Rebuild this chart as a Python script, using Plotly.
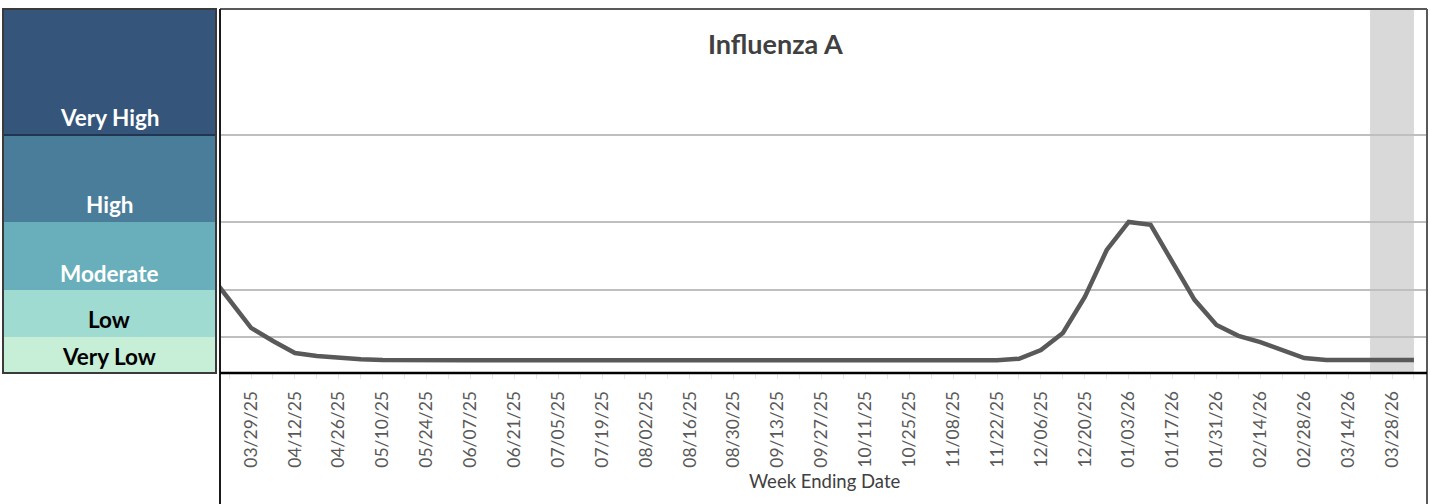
import pandas as pd
import plotly.graph_objects as go

# ---------------- data ----------------
week_ending = pd.date_range("2025-03-15", "2026-04-04", freq="7D")
flu_a = (
    [28.0, 20.3, 12.4, 8.8, 5.5, 4.7, 4.1, 3.8, 3.6]
    + [3.5] * 27
    + [3.5, 3.9, 6.3, 11.0, 20.9, 33.8, 41.5, 40.7, 30.5, 20.1,
       13.2, 10.2, 8.5, 6.3, 4.1, 3.6, 3.6, 3.6, 3.6, 3.6]
)
level_names = ["Very Low", "Low", "Moderate", "High", "Very High"]
level_bounds = [0, 9.9, 22.8, 41.5, 65.4, 100]
level_colors = ["#C7EED7", "#A0DBD1", "#68AEBB", "#4A7D9A", "#35557A"]
level_text_colors = ["black", "black", "white", "white", "white"]
incomplete_start, incomplete_end = "2026-03-21", "2026-04-04"
x_range = ["2025-03-19 10:00", "2026-04-08 04:00"]

# ---------------- layout geometry (pixels) ----------------
W, H = 1430, 504
PL, PR, PT, PB = 221, 1427, 9, 373  # plot area


def px_x(px):
    return (px - PL) / (PR - PL)


def px_y(py):
    return (PB - py) / (PB - PT)


FONT = "Lato"

fig = go.Figure()
fig.add_trace(go.Scatter(
    x=week_ending, y=flu_a, mode="lines",
    line=dict(color="#595959", width=4.5),
    showlegend=False, hoverinfo="x+y",
))

shapes = []
# incomplete-data band
shapes.append(dict(type="rect", xref="x", yref="paper",
                   x0=incomplete_start, x1=incomplete_end, y0=0, y1=1,
                   fillcolor="#D9D9D9", line_width=0, layer="below"))

annotations = []
# left level panel
for i, name in enumerate(level_names):
    lo, hi = level_bounds[i], level_bounds[i + 1]
    shapes.append(dict(type="rect", xref="paper", yref="y",
                       x0=px_x(3), x1=px_x(216), y0=lo, y1=hi,
                       fillcolor=level_colors[i], line_width=0, layer="above"))
    annotations.append(dict(
        xref="paper", yref="y", x=px_x(109), y=lo, yshift=17,
        text="<b>%s</b>" % name, showarrow=False,
        xanchor="center", yanchor="middle",
        font=dict(family=FONT, size=22.5, color=level_text_colors[i]),
    ))
# line between Very High and High
shapes.append(dict(type="line", xref="paper", yref="y",
                   x0=px_x(3), x1=px_x(216), y0=level_bounds[4], y1=level_bounds[4],
                   line=dict(color="#1F3550", width=2), layer="above"))
# panel border
shapes.append(dict(type="rect", xref="paper", yref="paper",
                   x0=px_x(3), x1=px_x(216), y0=0, y1=1,
                   line=dict(color="#3A3A3A", width=2), layer="above"))
# chart border (top, right, left)
shapes.append(dict(type="line", xref="paper", yref="paper",
                   x0=px_x(220), x1=px_x(1427), y0=px_y(9), y1=px_y(9),
                   line=dict(color="#595959", width=2)))
shapes.append(dict(type="line", xref="paper", yref="paper",
                   x0=px_x(1427), x1=px_x(1427), y0=px_y(9), y1=px_y(506),
                   line=dict(color="#595959", width=2)))
shapes.append(dict(type="line", xref="paper", yref="paper",
                   x0=px_x(220), x1=px_x(220), y0=px_y(9), y1=px_y(506),
                   line=dict(color="#1A1A1A", width=2)))
# x axis line
shapes.append(dict(type="line", xref="paper", yref="paper",
                   x0=px_x(220), x1=px_x(1427), y0=0, y1=0,
                   line=dict(color="#000000", width=2.5)))

annotations.append(dict(
    xref="paper", yref="paper", x=px_x(775), y=px_y(43),
    text="<b>Influenza A</b>", showarrow=False,
    xanchor="center", yanchor="middle",
    font=dict(family=FONT, size=27, color="#404040"),
))
annotations.append(dict(
    xref="paper", yref="paper", x=px_x(824), y=px_y(481),
    text="Week Ending Date", showarrow=False,
    xanchor="center", yanchor="middle",
    font=dict(family=FONT, size=18.5, color="#404040"),
))

fig.update_layout(
    width=W, height=H,
    margin=dict(l=PL, r=W - PR, t=PT, b=H - PB, pad=0),
    paper_bgcolor="white", plot_bgcolor="white",
    shapes=shapes, annotations=annotations,
    showlegend=False,
    xaxis=dict(
        type="date", range=x_range,
        tick0="2025-03-29", dtick=14 * 86400000,
        tickformat="%m/%d/%y", tickangle=-90,
        tickfont=dict(family=FONT, size=17.5, color="#595959"),
        ticks="outside", ticklen=5, tickcolor="#E6E6E6", tickwidth=1,
        minor=dict(dtick=7 * 86400000, tick0="2025-03-29",
                   ticks="outside", ticklen=5, tickcolor="#E6E6E6", tickwidth=1),
        ticklabelstandoff=5,
        showgrid=False, zeroline=False, showline=False,
        fixedrange=True,
    ),
    yaxis=dict(
        range=[0, 100], tickvals=level_bounds[1:5],
        showticklabels=False, ticks="",
        showgrid=True, gridcolor="#BFBFBF", gridwidth=1.5,
        zeroline=False, showline=False, fixedrange=True,
    ),
)

fig.write_html(
    "out.html",
    config={"displayModeBar": False},
    post_script="document.body.style.margin='0';document.body.style.overflow='hidden';",
)
